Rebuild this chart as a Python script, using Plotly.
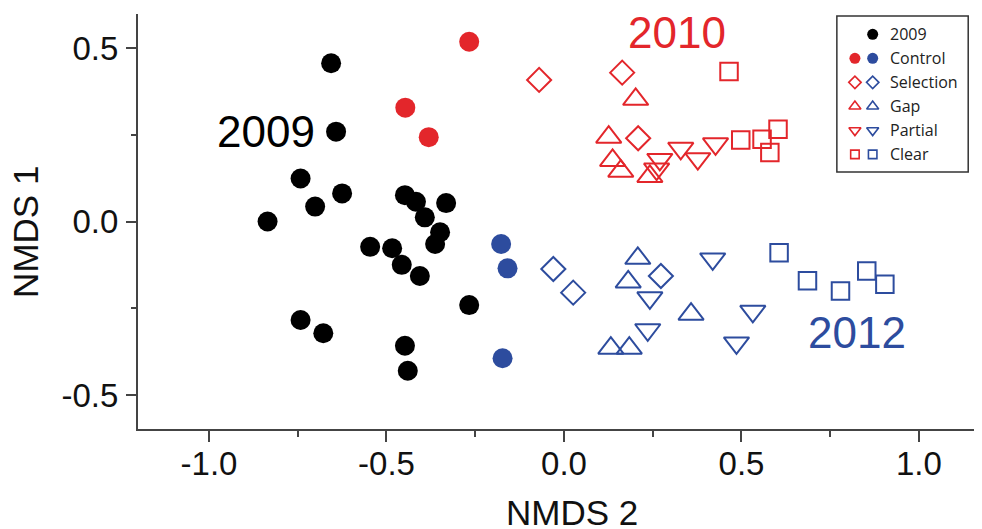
import plotly.graph_objects as go

# ---------------- data (NMDS 2 = x, NMDS 1 = y) ----------------
x_2009 = [-0.656, -0.642, -0.742, -0.625, -0.701, -0.835, -0.448, -0.417, -0.332, -0.392, -0.349,
          -0.363, -0.546, -0.484, -0.457, -0.406, -0.267, -0.742, -0.678, -0.448, -0.440]
y_2009 = [0.456, 0.259, 0.124, 0.081, 0.043, 0.000, 0.076, 0.057, 0.053, 0.012, -0.031,
          -0.065, -0.073, -0.077, -0.125, -0.157, -0.241, -0.284, -0.322, -0.358, -0.430]

x_2010_control = [-0.267, -0.447, -0.381]
y_2010_control = [0.518, 0.328, 0.243]
x_2010_selection = [-0.070, 0.164, 0.209]
y_2010_selection = [0.408, 0.429, 0.240]
x_2010_gap = [0.202, 0.126, 0.137, 0.160, 0.242]
y_2010_gap = [0.352, 0.243, 0.176, 0.145, 0.130]
x_2010_partial = [0.270, 0.261, 0.329, 0.377, 0.427]
y_2010_partial = [0.179, 0.151, 0.211, 0.181, 0.224]
x_2010_clear = [0.465, 0.498, 0.558, 0.603, 0.580]
y_2010_clear = [0.432, 0.235, 0.237, 0.266, 0.199]

x_2012_control = [-0.177, -0.159, -0.173]
y_2012_control = [-0.065, -0.135, -0.394]
x_2012_selection = [-0.030, 0.026, 0.273]
y_2012_selection = [-0.137, -0.205, -0.157]
x_2012_gap = [0.208, 0.181, 0.358, 0.132, 0.184]
y_2012_gap = [-0.106, -0.174, -0.267, -0.365, -0.365]
x_2012_partial = [0.419, 0.242, 0.236, 0.532, 0.486]
y_2012_partial = [-0.108, -0.220, -0.312, -0.259, -0.350]
x_2012_clear = [0.606, 0.686, 0.779, 0.853, 0.904]
y_2012_clear = [-0.090, -0.171, -0.200, -0.143, -0.181]

legend_labels = ["2009", "Control", "Selection", "Gap", "Partial", "Clear"]
x_tick_vals = [-1.0, -0.5, 0.0, 0.5, 1.0]
x_tick_text = ["-1.0", "-0.5", "0.0", "0.5", "1.0"]
y_tick_vals = [-0.5, 0.0, 0.5]
y_tick_text = ["-0.5", "0.0", "0.5"]

# ---------------- styling ----------------
RED = "#E3262B"
BLUE = "#2D4C9E"
BLACK = "#000000"
AX = "#444444"
FONT = "Arial, Liberation Sans, sans-serif"

symbols = {"Control": "circle", "Selection": "diamond-open", "Gap": "triangle-up-open",
           "Partial": "triangle-down-open", "Clear": "square-open"}
sizes = {"Control": 20, "Selection": 18.5, "Gap": 22, "Partial": 22, "Clear": 17.5}
leg_sizes = {"2009": 11, "Control": 11, "Selection": 9.5, "Gap": 10.5, "Partial": 10.5, "Clear": 8.5}

fig = go.Figure()

def add(xs, ys, name, color):
    sym = symbols[name]
    if sym.endswith("-open"):
        marker = dict(symbol=sym, size=sizes[name], color=color, line=dict(color=color, width=2))
    else:
        marker = dict(symbol=sym, size=sizes[name], color=color, line=dict(width=0))
    fig.add_trace(go.Scatter(x=xs, y=ys, mode="markers", marker=marker, showlegend=False,
                             hoverinfo="x+y"))

fig.add_trace(go.Scatter(x=x_2009, y=y_2009, mode="markers", showlegend=False,
                         marker=dict(symbol="circle", size=20, color=BLACK, line=dict(width=0))))
add(x_2010_control, y_2010_control, "Control", RED)
add(x_2012_control, y_2012_control, "Control", BLUE)
add(x_2010_selection, y_2010_selection, "Selection", RED)
add(x_2012_selection, y_2012_selection, "Selection", BLUE)
add(x_2010_gap, y_2010_gap, "Gap", RED)
add(x_2012_gap, y_2012_gap, "Gap", BLUE)
add(x_2010_partial, y_2010_partial, "Partial", RED)
add(x_2012_partial, y_2012_partial, "Partial", BLUE)
add(x_2010_clear, y_2010_clear, "Clear", RED)
add(x_2012_clear, y_2012_clear, "Clear", BLUE)

# ---------------- custom two-column legend on an inset axis ----------------
for i, lab in enumerate(legend_labels):
    if lab == "2009":
        cols = [(1, BLACK)]
        sym = "circle"
    else:
        cols = [(0, RED), (1, BLUE)]
        sym = symbols[lab]
    for c, colr in cols:
        m = dict(symbol=sym, size=leg_sizes[lab], color=colr)
        if sym.endswith("-open"):
            m["line"] = dict(color=colr, width=1.6)
        else:
            m["line"] = dict(width=0)
        fig.add_trace(go.Scatter(x=[c], y=[i], mode="markers", marker=m, showlegend=False,
                                 xaxis="x2", yaxis="y2", hoverinfo="skip"))
    fig.add_annotation(x=1.85, y=i, xref="x2", yref="y2", text=lab, showarrow=False,
                       xanchor="left", yanchor="middle",
                       font=dict(family="Open Sans, sans-serif", size=16, color="#222222"))

# legend frame
fig.add_shape(type="rect", xref="paper", yref="paper", x0=0.830, x1=0.986, y0=0.619, y1=0.995,
              line=dict(color="#333333", width=1.5), fillcolor="rgba(0,0,0,0)")

# year labels
fig.add_annotation(x=-0.84, y=0.26, xref="x", yref="y", text="2009", showarrow=False,
                   font=dict(family=FONT, size=44, color=BLACK))
fig.add_annotation(x=0.318, y=0.545, xref="x", yref="y", text="2010", showarrow=False,
                   font=dict(family=FONT, size=44, color=RED))
fig.add_annotation(x=0.826, y=-0.32, xref="x", yref="y", text="2012", showarrow=False,
                   font=dict(family=FONT, size=44, color=BLUE))

# axis titles
fig.add_annotation(x=0.516, y=-0.2, xref="paper", yref="paper", text="NMDS 2", showarrow=False,
                   yanchor="middle", font=dict(family=FONT, size=35, color="#111111"))
fig.add_annotation(x=-0.133, y=0.475, xref="paper", yref="paper", text="NMDS 1", showarrow=False,
                   textangle=-90, xanchor="center", yanchor="middle",
                   font=dict(family=FONT, size=35, color="#111111"))

# The page body has an 8 px margin, so the figure is sized / offset to compensate.
fig.update_layout(
    width=974, height=521,
    margin=dict(l=130, r=2, t=6, b=100),
    paper_bgcolor="white", plot_bgcolor="white",
    showlegend=False,
    xaxis=dict(range=[-1.2, 1.172], showgrid=False, zeroline=False,
               showline=True, linecolor=AX, linewidth=2,
               ticks="outside", ticklen=11, tickwidth=1.5, tickcolor=AX,
               tickvals=x_tick_vals, ticktext=x_tick_text,
               tickfont=dict(family=FONT, size=33, color="#111111"),
               minor=dict(dtick=0.25, tick0=0, ticks="outside", ticklen=6, tickwidth=1.5, tickcolor=AX),
               ticklabelstandoff=-7),
    yaxis=dict(range=[-0.598, 0.598], showgrid=False, zeroline=False,
               showline=True, linecolor=AX, linewidth=2,
               ticks="outside", ticklen=10, tickwidth=1.5, tickcolor=AX,
               tickvals=y_tick_vals, ticktext=y_tick_text,
               tickfont=dict(family=FONT, size=33, color="#111111"),
               minor=dict(dtick=0.25, tick0=0, ticks="outside", ticklen=5, tickwidth=1.5, tickcolor=AX),
               ticklabelstandoff=1),
    xaxis2=dict(domain=[0.830, 0.986], range=[-1.017, 6.38], visible=False, fixedrange=True),
    yaxis2=dict(domain=[0.619, 0.995], range=[5.74, -0.76], visible=False, fixedrange=True,
                anchor="x2"),
)
fig.update_layout(xaxis2_anchor="y2")

fig.write_html("out.html")
